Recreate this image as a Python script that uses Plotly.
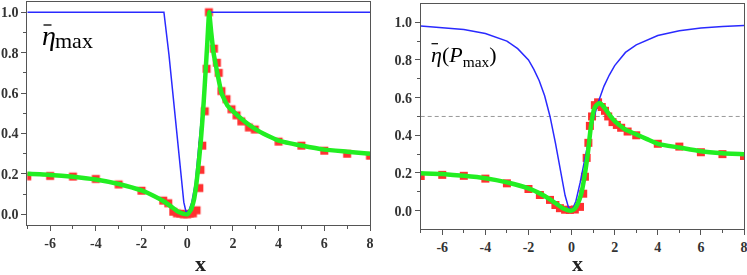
import plotly.graph_objects as go

# ---------------- data: left panel (eta_max) ----------------
blue1_x = [-7, -1.02, -0.8, -0.6, -0.4, -0.25, -0.15, -0.05, 0.08, 0.2, 0.35, 0.5, 0.65, 0.8, 0.9, 0.99, 8]
blue1_y = [1.0, 1.0, 0.79, 0.57, 0.36, 0.16, 0.06, 0.01, 0.02, 0.06, 0.15, 0.33, 0.5, 0.69, 0.84, 1.0, 1.0]

green1_x = [-7, -6, -5, -4, -3, -2, -1.5, -1, -0.7, -0.4, -0.2, 0, 0.15, 0.3, 0.4, 0.5, 0.6, 0.7, 0.8, 0.88, 0.96,
            1.05, 1.15, 1.3, 1.5, 1.75, 2.0, 2.5, 3, 3.5, 4, 5, 6, 7, 8]
green1_y = [0.20, 0.195, 0.186, 0.172, 0.15, 0.118, 0.093, 0.062, 0.038, 0.013, 0.003, 0.0, 0.02, 0.075, 0.15, 0.25,
            0.37, 0.52, 0.70, 0.85, 1.0, 0.9, 0.8, 0.71, 0.6, 0.54, 0.51, 0.46, 0.42, 0.39, 0.365, 0.34, 0.32, 0.31, 0.30]

red1_x = [-7, -6, -5, -4, -3, -2, -1.05, -0.83, -0.61, -0.45, -0.3, -0.15, 0.0, 0.12, 0.25, 0.41, 0.53, 0.58, 0.66,
          0.77, 0.85, 0.95, 1.17, 1.3, 1.38, 1.5, 1.72, 1.94, 2.16, 2.37, 2.7, 2.96, 4, 5, 6, 7, 8]
red1_y = [0.188, 0.19, 0.187, 0.175, 0.148, 0.117, 0.068, 0.055, 0.013, 0.005, 0.003, 0.0, 0.0, 0.003, 0.005, 0.02,
          0.13, 0.22, 0.34, 0.51, 0.72, 1.0, 0.82, 0.75, 0.70, 0.61, 0.57, 0.52, 0.49, 0.46, 0.43, 0.42, 0.36, 0.34,
          0.315, 0.30, 0.29]

# ---------------- data: right panel (eta(P_max)) ----------------
blue2_x = [-7, -6, -5, -4, -3, -2.5, -2, -1.75, -1.5, -1.25, -1, -0.75, -0.5, -0.3, -0.15, -0.05, 0.05, 0.2, 0.4,
           0.6, 0.8, 1.0, 1.25, 1.5, 1.75, 2, 2.5, 3, 4, 5, 6, 7, 8]
blue2_y = [0.98, 0.973, 0.962, 0.94, 0.9, 0.86, 0.8, 0.75, 0.69, 0.61, 0.5, 0.36, 0.2, 0.08, 0.02, 0.005, 0.01, 0.05,
           0.15, 0.27, 0.38, 0.48, 0.58, 0.66, 0.72, 0.77, 0.84, 0.88, 0.93, 0.955, 0.97, 0.978, 0.983]

green2_x = [-7, -6, -5, -4, -3, -2, -1.5, -1, -0.7, -0.4, -0.2, 0, 0.15, 0.3, 0.45, 0.6, 0.75, 0.9, 1.05, 1.2, 1.32,
            1.5, 1.75, 2.0, 2.5, 3, 3.5, 4, 5, 6, 7, 8]
green2_y = [0.198, 0.194, 0.185, 0.172, 0.15, 0.118, 0.093, 0.06, 0.036, 0.012, 0.003, 0.0, 0.01, 0.04, 0.09, 0.18,
            0.30, 0.45, 0.54, 0.565, 0.57, 0.55, 0.51, 0.475, 0.43, 0.405, 0.38, 0.355, 0.335, 0.315, 0.305, 0.30]

red2_x = [-7, -6, -5, -4, -3, -2, -1.47, -1, -0.75, -0.54, -0.3, -0.08, 0.15, 0.39, 0.54, 0.62, 0.7, 0.78, 0.85,
          0.95, 1.08, 1.23, 1.4, 1.55, 1.7, 1.9, 2.1, 2.3, 2.6, 3.0, 4, 5, 6, 7, 8]
red2_y = [0.184, 0.19, 0.185, 0.17, 0.145, 0.115, 0.083, 0.057, 0.03, 0.013, 0.005, 0.004, 0.006, 0.02, 0.09, 0.18,
          0.28, 0.36, 0.45, 0.5, 0.56, 0.575, 0.55, 0.53, 0.5, 0.47, 0.455, 0.44, 0.42, 0.40, 0.355, 0.34, 0.31,
          0.30, 0.29]

ref_level = 0.5
x_range = [-7, 8]

# tick positions and labels
x_tick_vals = [-6, -4, -2, 0, 2, 4, 6, 8]
x_tick_labels = ["-6", "-4", "-2", "0", "2", "4", "6", "8"]
y_tick_vals = [0.0, 0.2, 0.4, 0.6, 0.8, 1.0]
y_tick_labels = ["0.0", "0.2", "0.4", "0.6", "0.8", "1.0"]

# ---------------- figure ----------------
W, H = 747, 275
BLUE = "#2a2aff"
GREEN = "#22ee22"
RED = "#ff1a1a"
AX = "#555555"
SERIF = "Liberation Serif, Times New Roman, serif"
TICKFONT = dict(family=SERIF, size=14, color="#333333")

fig = go.Figure()

def add_panel(xa, ya, rx, ry, bx, by, gx, gy):
    fig.add_trace(go.Scatter(x=rx, y=ry, mode="markers", xaxis=xa, yaxis=ya,
                             marker=dict(symbol="square", size=8, color=RED, line=dict(width=0)),
                             opacity=0.9, showlegend=False, hoverinfo="skip"))
    fig.add_trace(go.Scatter(x=bx, y=by, mode="lines", xaxis=xa, yaxis=ya,
                             line=dict(color=BLUE, width=1.5), showlegend=False))
    fig.add_trace(go.Scatter(x=gx, y=gy, mode="lines", xaxis=xa, yaxis=ya,
                             line=dict(color=GREEN, width=4.5, shape="spline", smoothing=0.4),
                             showlegend=False))

add_panel("x", "y", red1_x, red1_y, blue1_x, blue1_y, green1_x, green1_y)
fig.add_trace(go.Scatter(x=x_range, y=[ref_level, ref_level], mode="lines", xaxis="x2", yaxis="y2",
                         line=dict(color="#999999", width=1, dash="4px,3px"), showlegend=False))
add_panel("x2", "y2", red2_x, red2_y, blue2_x, blue2_y, green2_x, green2_y)

def bold(labels):
    return ["<b>" + t + "</b>" for t in labels]

def xaxis(domain, anchor):
    return dict(domain=domain, anchor=anchor, range=x_range, automargin=False,
                tickmode="array", tickvals=x_tick_vals, ticktext=bold(x_tick_labels),
                showgrid=False, zeroline=False, showline=True, mirror=True,
                linecolor=AX, linewidth=1, ticks="outside", ticklen=5, tickcolor=AX,
                tickfont=TICKFONT, ticklabeloverflow="allow",
                minor=dict(ticks="outside", ticklen=3, tickcolor=AX, dtick=1, tick0=0, showgrid=False))

def yaxis(domain, anchor, rng):
    return dict(domain=domain, anchor=anchor, range=rng, automargin=False,
                tickmode="array", tickvals=y_tick_vals, ticktext=bold(y_tick_labels),
                showgrid=False, zeroline=False, showline=True, mirror=True,
                linecolor=AX, linewidth=1, ticks="outside", ticklen=5, tickcolor=AX,
                tickfont=TICKFONT, ticklabeloverflow="allow",
                minor=dict(ticks="outside", ticklen=3, tickcolor=AX, dtick=0.1, tick0=0, showgrid=False))

def px(xp):
    return xp / W

def py(yp):
    return (H - yp) / H

fig.update_layout(
    width=W, height=H,
    font=dict(family=SERIF, size=13, color="#333333"),
    margin=dict(l=0, r=0, t=0, b=0, autoexpand=False),
    paper_bgcolor="white", plot_bgcolor="white",
    xaxis=xaxis([px(27.3), px(370)], "y"),
    yaxis=yaxis([py(225), py(1.7)], "x", [-0.053, 1.052]),
    xaxis2=xaxis([px(420.7), px(744)], "y2"),
    yaxis2=yaxis([py(229.3), py(4)], "x2", [-0.099, 1.097]),
    annotations=[
        dict(text="<i>η</i>", xref="paper", yref="paper", x=px(40), y=py(36),
             xanchor="left", yanchor="middle", showarrow=False,
             font=dict(family=SERIF, size=28, color="black")),
        dict(text="max", xref="paper", yref="paper", x=px(53), y=py(41),
             xanchor="left", yanchor="middle", showarrow=False,
             font=dict(family=SERIF, size=22, color="black")),
        dict(text="<i>η</i>(<i>P</i><sub>max</sub>)", xref="paper", yref="paper", x=px(429), y=py(56),
             xanchor="left", yanchor="middle", showarrow=False,
             font=dict(family=SERIF, size=22, color="black")),
        dict(text="<b>x</b>", xref="paper", yref="paper", x=px(200), y=-3 / H,
             xanchor="center", yanchor="bottom", showarrow=False,
             font=dict(family=SERIF, size=22, color="#222222")),
        dict(text="<b>x</b>", xref="paper", yref="paper", x=px(577), y=-3 / H,
             xanchor="center", yanchor="bottom", showarrow=False,
             font=dict(family=SERIF, size=22, color="#222222")),
    ],
    shapes=[
        dict(type="line", xref="paper", yref="paper", x0=px(43.5), x1=px(51.5), y0=py(25), y1=py(25),
             line=dict(color="black", width=1.3)),
        dict(type="line", xref="paper", yref="paper", x0=px(431.5), x1=px(438), y0=py(43.7), y1=py(43.7),
             line=dict(color="black", width=1.2)),
    ],
)

fig.write_html("out.html", config={"displayModeBar": False},
               post_script="document.body.style.margin='0';document.body.style.overflow='hidden';")
